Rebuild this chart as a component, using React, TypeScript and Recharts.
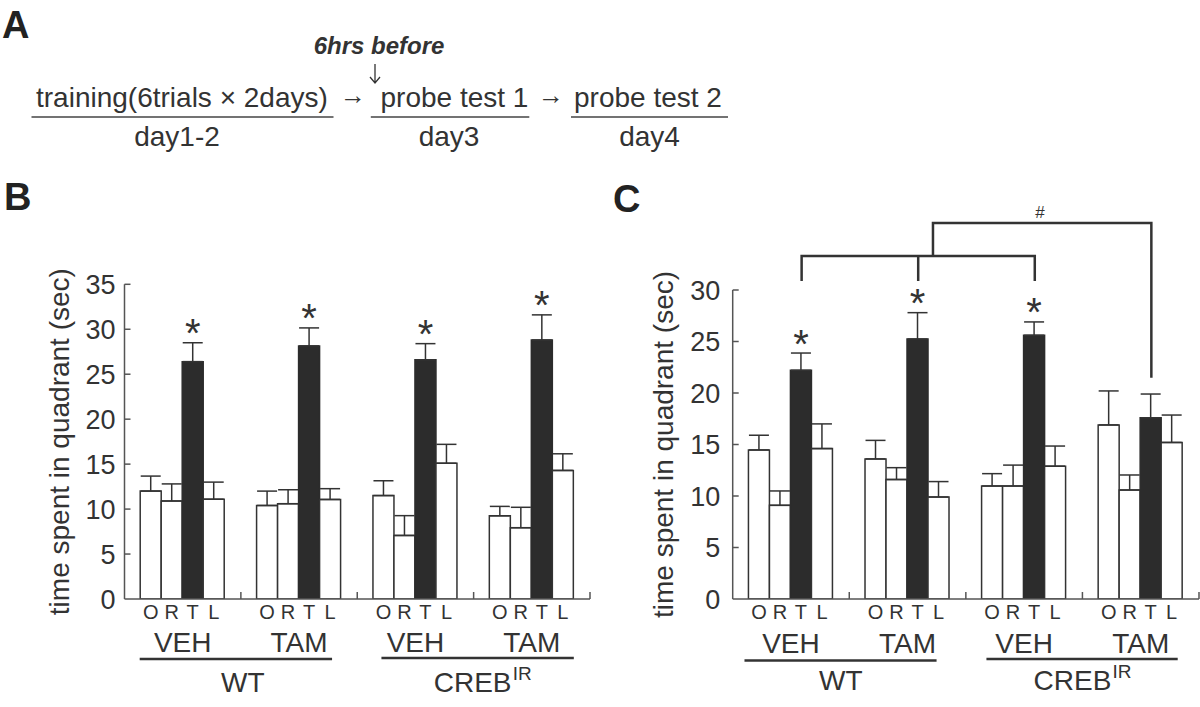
import React from 'react';
import {
  ComposedChart,
  Bar,
  XAxis,
  YAxis,
  ErrorBar,
  LabelList,
  ReferenceLine,
} from 'recharts';

const FONT = '"Liberation Sans", Arial, Helvetica, sans-serif';
const INK = '#333333';
const AXIS = '#555555';
const DARK = '#2c2c2c';

// ---- categories / labels ----
const GROUPS = ['WT-VEH', 'WT-TAM', 'CREB-VEH', 'CREB-TAM'];
const TREATMENTS = ['VEH', 'TAM', 'VEH', 'TAM'];
const GENOTYPES = ['WT', 'CREB'];
const GENO_SUP = ['', 'IR'];
const QUADRANTS = ['O', 'R', 'T', 'L'];
const Y_LABEL = 'time spent in quadrant (sec)';

// ---- panel B values ----
const B_O = [12.0, 10.4, 11.5, 9.25];
const B_O_ERR = [1.67, 1.6, 1.65, 1.05];
const B_R = [10.9, 10.6, 7.07, 7.93];
const B_R_ERR = [1.9, 1.55, 2.2, 2.27];
const B_T = [26.4, 28.15, 26.6, 28.8];
const B_T_ERR = [2.1, 2.0, 1.8, 2.8];
const B_L = [11.1, 11.07, 15.1, 14.3];
const B_L_ERR = [1.9, 1.2, 2.1, 1.85];
const B_STARS = [true, true, true, true];
const B_TICKS = [0, 5, 10, 15, 20, 25, 30, 35];

// ---- panel C values ----
const C_O = [14.47, 13.6, 10.97, 16.9];
const C_O_ERR = [1.43, 1.8, 1.2, 3.3];
const C_R = [9.09, 11.6, 10.97, 10.58];
const C_R_ERR = [1.4, 1.15, 2.03, 1.46];
const C_T = [22.2, 25.24, 25.6, 17.6];
const C_T_ERR = [1.68, 2.56, 1.3, 2.3];
const C_L = [14.6, 9.9, 12.9, 15.2];
const C_L_ERR = [2.4, 1.5, 1.95, 2.66];
const C_STARS = [true, true, true, false];
const C_TICKS = [0, 5, 10, 15, 20, 25, 30];

// ---- panel C significance bracket (data units; x in group units from band start) ----
const BRACKET_LOW_GROUPS = [0, 1, 2];
const BRACKET_TARGET_GROUP = 3;
const BRACKET_LOW_Y = 33.3;
const BRACKET_LOW_END = 31.0;
const BRACKET_HIGH_Y = 36.5;
const BRACKET_HIGH_END = 21.6;
const BRACKET_JOIN_X = 1.718;
const HASH_X = 2.635;
const HASH_Y = 37.6;

const CAT_GAP = 0.135;
const BAR_FRAC = (1 - 2 * CAT_GAP) / 4;
const T_OFFSET = BAR_FRAC / 2;
const tCenter = (i: number) => i + 0.5 + T_OFFSET;

const buildRows = (
  o: number[], oe: number[], r: number[], re: number[],
  t: number[], te: number[], l: number[], le: number[]
) =>
  GROUPS.map((g, i) => ({
    group: g,
    O: o[i], Oe: [0, oe[i]],
    R: r[i], Re: [0, re[i]],
    T: t[i], Te: [0, te[i]],
    L: l[i], Le: [0, le[i]],
  }));

const B_ROWS = buildRows(B_O, B_O_ERR, B_R, B_R_ERR, B_T, B_T_ERR, B_L, B_L_ERR);
const C_ROWS = buildRows(C_O, C_O_ERR, C_R, C_R_ERR, C_T, C_T_ERR, C_L, C_L_ERR);

const getBox = (p: any) => {
  const vb = p.viewBox || {};
  const x = vb.x ?? p.x;
  const y = vb.y ?? p.y;
  const w = vb.width ?? p.width;
  const h = vb.height ?? p.height;
  const top = Math.min(y, y + h);
  const bottom = Math.max(y, y + h);
  return { x, w, top, bottom, h: Math.abs(h) };
};

const quadLetter = (q: string) => (p: any) => {
  const b = getBox(p);
  if (b.x == null || isNaN(b.x)) return null;
  return (
    <text
      x={b.x + b.w / 2}
      y={b.bottom + 20}
      textAnchor="middle"
      fontSize={20}
      fontFamily={FONT}
      fill={INK}
    >
      {q}
    </text>
  );
};

const starContent = (errs: number[], stars: boolean[]) => (p: any) => {
  const idx = p.index;
  if (!stars[idx]) return null;
  const b = getBox(p);
  const v = Number(p.value);
  const errPx = (errs[idx] * b.h) / v;
  const cy = b.top - errPx - 18.5;
  return (
    <text
      x={b.x + b.w / 2}
      y={cy + 23}
      textAnchor="middle"
      fontSize={40}
      fontFamily={FONT}
      fill={INK}
    >
      *
    </text>
  );
};

// Draws the whole bracket from the reference segment endpoints
// (segment goes from group 0 centre at LOW level to target group centre at HIGH level)
const bracketShape = (p: any) => {
  const { x1, y1, x2, y2 } = p;
  if ([x1, y1, x2, y2].some((v) => v == null || isNaN(v))) return null;
  const bw = (x2 - x1) / BRACKET_TARGET_GROUP;
  const bandStart = x1 - bw / 2;
  const gx = (u: number) => bandStart + u * bw;
  const yPx = (v: number) =>
    y1 + ((v - BRACKET_LOW_Y) * (y2 - y1)) / (BRACKET_HIGH_Y - BRACKET_LOW_Y);
  const lowXs = BRACKET_LOW_GROUPS.map((i) => gx(tCenter(i)));
  const yLow = yPx(BRACKET_LOW_Y);
  const yLowEnd = yPx(BRACKET_LOW_END);
  const yHigh = yPx(BRACKET_HIGH_Y);
  const yHighEnd = yPx(BRACKET_HIGH_END);
  const jx = gx(BRACKET_JOIN_X);
  const tx = gx(tCenter(BRACKET_TARGET_GROUP));
  let d = `M${lowXs[0]},${yLow} L${lowXs[lowXs.length - 1]},${yLow}`;
  lowXs.forEach((lx) => {
    d += ` M${lx},${yLow} L${lx},${yLowEnd}`;
  });
  d += ` M${jx},${yLow} L${jx},${yHigh} L${tx},${yHigh} L${tx},${yHighEnd}`;
  return (
    <g>
      <path d={d} fill="none" stroke={INK} strokeWidth={2.5} strokeLinecap="square" strokeLinejoin="miter" />
      <text
        x={gx(HASH_X)}
        y={yPx(HASH_Y)}
        dy="0.35em"
        textAnchor="middle"
        fontSize={17}
        fontFamily={FONT}
        fill={INK}
      >
        #
      </text>
    </g>
  );
};

type PanelCfg = {
  left: number;
  rows: any[];
  errs: number[];
  stars: boolean[];
  ticks: number[];
  yMax: number;
  yWidth: number;
  tickGap: number;
  marginTop: number;
  marginRight: number;
  plotW: number;
  labelX: number;
  treatDy: number;
  ul: number[][];
  ulDy: number[];
  genoDx: number[];
  genoDy: number;
  bracket: boolean;
};

const Panel = ({ cfg }: { cfg: PanelCfg }) => {
  const bw = cfg.plotW / 4;
  const renderXTick = (props: any) => {
    const { x, y, index } = props;
    const g = Math.floor(index / 2);
    const first = index % 2 === 0;
    return (
      <g>
        <line x1={x + bw / 2} x2={x + bw / 2} y1={y} y2={y - 7} stroke={AXIS} strokeWidth={1.5} />
        <text x={x} y={y + cfg.treatDy} textAnchor="middle" fontSize={28} fontFamily={FONT} fill={INK}>
          {TREATMENTS[index]}
        </text>
        {first && (
          <g>
            <line
              x1={x + cfg.ul[g][0]}
              x2={x + bw + cfg.ul[g][1]}
              y1={y + cfg.ulDy[g]}
              y2={y + cfg.ulDy[g]}
              stroke={INK}
              strokeWidth={2.5}
            />
            <text
              x={x + bw / 2 + cfg.genoDx[g]}
              y={y + cfg.genoDy}
              textAnchor="middle"
              fontSize={28}
              fontFamily={FONT}
              fill={INK}
            >
              {GENOTYPES[g]}
            </text>
            {GENO_SUP[g] && (
              <text
                x={x + bw / 2 + cfg.genoDx[g] + 40}
                y={y + cfg.genoDy - 12}
                textAnchor="start"
                fontSize={19}
                fontFamily={FONT}
                fill={INK}
              >
                {GENO_SUP[g]}
              </text>
            )}
          </g>
        )}
      </g>
    );
  };

  const renderYTick = (props: any) => {
    const { x, y, payload } = props;
    return (
      <g>
        {payload.value !== 0 && (
          <line x1={x + cfg.tickGap} x2={x + cfg.tickGap + 6} y1={y} y2={y} stroke={AXIS} strokeWidth={1.5} />
        )}
        <text x={x} y={y} dy="0.36em" textAnchor="end" fontSize={27} fontFamily={FONT} fill={INK}>
          {payload.value}
        </text>
      </g>
    );
  };

  const yLabel = (p: any) => {
    const vb = p.viewBox || {};
    const cy = vb.y + vb.height / 2;
    return (
      <text
        transform={`translate(${cfg.labelX},${cy}) rotate(-90)`}
        textAnchor="middle"
        fontSize={28}
        fontFamily={FONT}
        fill={INK}
      >
        {Y_LABEL}
      </text>
    );
  };

  return (
    <div style={{ position: 'absolute', left: cfg.left, top: 170, width: 600, height: 537 }}>
      <ComposedChart
        width={600}
        height={537}
        data={cfg.rows}
        margin={{ top: cfg.marginTop, right: cfg.marginRight, bottom: 8, left: 0 }}
        barCategoryGap={`${CAT_GAP * 100}%`}
        barGap={0}
      >
        <XAxis
          dataKey="group"
          interval={0}
          height={100}
          tickSize={0}
          tickMargin={0}
          tickLine={false}
          axisLine={{ stroke: AXIS, strokeWidth: 1.5 }}
          tick={renderXTick}
        />
        <YAxis
          domain={[0, cfg.yMax]}
          ticks={cfg.ticks}
          interval={0}
          width={cfg.yWidth}
          tickSize={0}
          tickMargin={cfg.tickGap}
          tickLine={false}
          allowDataOverflow
          axisLine={{ stroke: AXIS, strokeWidth: 1.5 }}
          tick={renderYTick}
          label={yLabel}
        />
        {QUADRANTS.map((q) => (
          <Bar
            key={q}
            dataKey={q}
            fill={q === 'T' ? DARK : '#ffffff'}
            stroke={q === 'T' ? DARK : INK}
            strokeWidth={1.5}
            isAnimationActive={false}
          >
            <ErrorBar dataKey={q + 'e'} width={10} stroke={INK} strokeWidth={1.5} direction="y" />
            <LabelList dataKey={q} content={quadLetter(q)} />
            {q === 'T' && <LabelList dataKey="T" content={starContent(cfg.errs, cfg.stars)} />}
          </Bar>
        ))}
        {cfg.bracket && (
          <ReferenceLine
            ifOverflow="visible"
            stroke={INK}
            strokeWidth={2.5}
            segment={[
              { x: GROUPS[0], y: BRACKET_LOW_Y },
              { x: GROUPS[BRACKET_TARGET_GROUP], y: BRACKET_HIGH_Y },
            ]}
            shape={bracketShape}
          />
        )}
      </ComposedChart>
    </div>
  );
};

const B_CFG: PanelCfg = {
  left: 0,
  rows: B_ROWS,
  errs: B_T_ERR,
  stars: B_STARS,
  ticks: B_TICKS,
  yMax: 35,
  yWidth: 124.5,
  tickGap: 9,
  marginTop: 114.3,
  marginRight: 10,
  plotW: 465.5,
  labelX: 69,
  treatDy: 52.7,
  ul: [[-43, 33], [-34, 42]],
  ulDy: [60, 59],
  genoDx: [2, -1],
  genoDy: 93,
  bracket: false,
};

const C_CFG: PanelCfg = {
  left: 600,
  rows: C_ROWS,
  errs: C_T_ERR,
  stars: C_STARS,
  ticks: C_TICKS,
  yMax: 30,
  yWidth: 132.7,
  tickGap: 12.5,
  marginTop: 120,
  marginRight: 1,
  plotW: 466.3,
  labelX: 72.6,
  treatDy: 54,
  ul: [[-46.5, 29], [-37.7, 37]],
  ulDy: [61.5, 60],
  genoDx: [-8.5, -10],
  genoDy: 91,
  bracket: true,
};

const PanelA = () => (
  <svg width={1200} height={170} style={{ position: 'absolute', left: 0, top: 0 }}>
    <g fontFamily={FONT} fill={INK}>
      <text x={2} y={38} fontSize={38} fontWeight="bold" fill="#222">A</text>
      <text x={379} y={54} fontSize={24} fontWeight="bold" fontStyle="italic" textAnchor="middle">
        6hrs before
      </text>
      <text x={36} y={107} fontSize={28}>training(6trials × 2days)</text>
      <text x={353} y={104} fontSize={26} textAnchor="middle">→</text>
      <text x={380.5} y={107} fontSize={28}>probe test 1</text>
      <text x={551} y={104} fontSize={26} textAnchor="middle">→</text>
      <text x={574} y={107} fontSize={28}>probe test 2</text>
      <text x={177} y={146} fontSize={28} textAnchor="middle">day1-2</text>
      <text x={449} y={146} fontSize={28} textAnchor="middle">day3</text>
      <text x={649.5} y={146} fontSize={28} textAnchor="middle">day4</text>
    </g>
    <path d="M375,64 L375,83 M370,77 L375,83 L380,77" fill="none" stroke={INK} strokeWidth={1.3} />
    <g stroke="#444" strokeWidth={1.5}>
      <line x1={31.5} x2={333.5} y1={117} y2={117} />
      <line x1={370.8} x2={529.3} y1={117} y2={117} />
      <line x1={571} x2={728} y1={117} y2={117} />
    </g>
  </svg>
);

const PanelLetters = () => (
  <svg width={1200} height={60} style={{ position: 'absolute', left: 0, top: 170 }}>
    <text x={4} y={40} fontSize={38} fontWeight="bold" fontFamily={FONT} fill="#222">B</text>
    <text x={613} y={42} fontSize={38} fontWeight="bold" fontFamily={FONT} fill="#222">C</text>
  </svg>
);

export default function App() {
  return (
    <div style={{ position: 'absolute', left: 0, top: 0, width: 1200, height: 707, background: '#fff', overflow: 'hidden' }}>
      <PanelA />
      <Panel cfg={B_CFG} />
      <Panel cfg={C_CFG} />
      <PanelLetters />
    </div>
  );
}
